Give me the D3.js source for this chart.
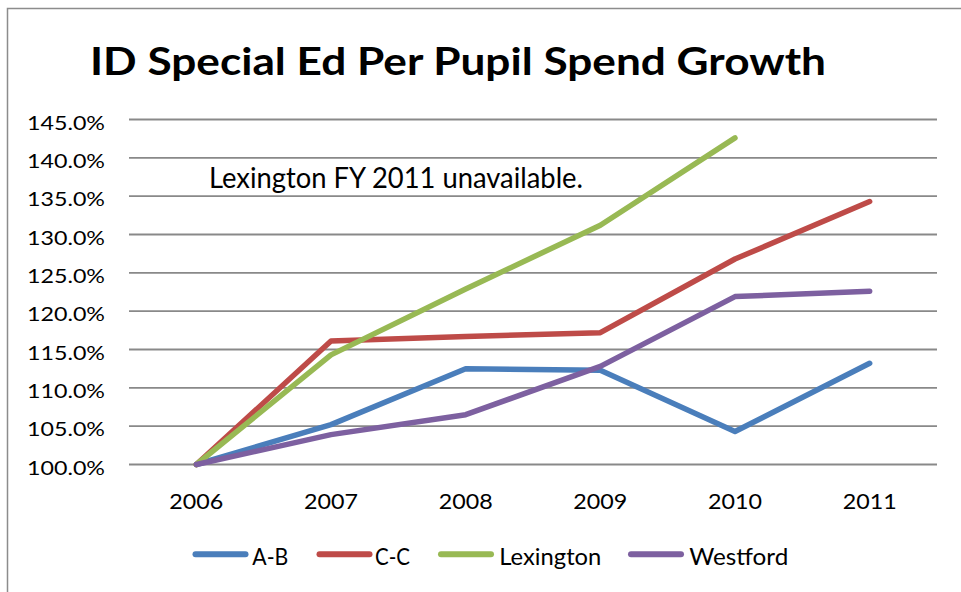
<!DOCTYPE html>
<html>
<head>
<meta charset="utf-8">
<script src="https://cdn.jsdelivr.net/npm/d3@7/dist/d3.min.js"></script>
<style>
  html, body { margin: 0; padding: 0; background: #fff; }
  svg { display: block; }
  text { font-family: Lato, "Open Sans", sans-serif; fill: #000; }
</style>
</head>
<body>
<script>
// Per-pupil special-ed spending, indexed to 2006 = 100%
const years = ["2006", "2007", "2008", "2009", "2010", "2011"];
const abValues = [100.0, 105.2, 112.5, 112.3, 104.3, 113.2];
const ccValues = [100.0, 116.1, 116.7, 117.2, 126.8, 134.3];
const lexingtonValues = [100.0, 114.3, 122.9, 131.2, 142.6, null];
const westfordValues = [100.0, 103.9, 106.5, 112.8, 121.9, 122.6];
const yTicks = [100, 105, 110, 115, 120, 125, 130, 135, 140, 145];

const seriesNames = ["A-B", "C-C", "Lexington", "Westford"];
const seriesColors = ["#4a7ebb", "#be4b48", "#98b954", "#7d60a0"];
const seriesValues = [abValues, ccValues, lexingtonValues, westfordValues];

const W = 961, H = 592;
const svg = d3.select("body").append("svg").attr("width", W).attr("height", H);

// chart frame
svg.append("rect")
  .attr("x", 7.5).attr("y", 8.5).attr("width", W + 10).attr("height", H + 10)
  .attr("fill", "none").attr("stroke", "#8c8c8c").attr("stroke-width", 1.5);

// title
svg.append("text")
  .attr("x", 90).attr("y", 74.5)
  .attr("font-size", 38.5).attr("font-weight", "bold")
  .attr("textLength", 736).attr("lengthAdjust", "spacingAndGlyphs")
  .text("ID Special Ed Per Pupil Spend Growth");

const plot = { left: 129, right: 937, top: 119.5, bottom: 464.5 };

const x = d3.scaleBand().domain(years).range([plot.left, plot.right]);
const y = d3.scaleLinear().domain([100, 145]).range([plot.bottom, plot.top]);

// horizontal gridlines
svg.append("g").selectAll("line").data(yTicks).join("line")
  .attr("x1", plot.left).attr("x2", plot.right)
  .attr("y1", d => y(d)).attr("y2", d => y(d))
  .attr("stroke", "#898989").attr("stroke-width", 1.8);

// y-axis labels
const yAxis = d3.axisLeft(y).tickValues(yTicks).tickSize(0).tickPadding(0)
  .tickFormat(d => d3.format(".1f")(d) + "%");
const gy = svg.append("g").attr("transform", `translate(105,0)`).call(yAxis);
gy.select(".domain").remove();
gy.selectAll("text")
  .attr("font-size", 19.5).attr("fill", "#000")
  .attr("font-family", "Lato, sans-serif")
  .attr("x", -78).attr("text-anchor", "start")
  .attr("dy", null).attr("y", 9.8)
  .attr("textLength", 78).attr("lengthAdjust", "spacingAndGlyphs");

// x-axis labels
const xAxis = d3.axisBottom(x).tickSize(0).tickPadding(0);
const gx = svg.append("g").attr("transform", `translate(0,${plot.bottom})`).call(xAxis);
gx.select(".domain").remove();
gx.selectAll("text")
  .attr("font-size", 22).attr("fill", "#000")
  .attr("font-family", "Lato, sans-serif")
  .attr("dy", null).attr("y", 44.8)
  .attr("textLength", 54).attr("lengthAdjust", "spacingAndGlyphs");

// annotation
svg.append("text")
  .attr("x", 209).attr("y", 188.3)
  .attr("font-size", 29)
  .attr("textLength", 374).attr("lengthAdjust", "spacingAndGlyphs")
  .text("Lexington FY 2011 unavailable.");

// series lines
const line = d3.line()
  .defined(d => d.v != null)
  .x(d => x(d.year) + x.bandwidth() / 2)
  .y(d => y(d.v));

seriesValues.forEach((vals, i) => {
  svg.append("path")
    .datum(years.map((yr, j) => ({ year: yr, v: vals[j] })))
    .attr("d", line)
    .attr("fill", "none")
    .attr("stroke", seriesColors[i])
    .attr("stroke-width", 5.5)
    .attr("stroke-linecap", "round")
    .attr("stroke-linejoin", "round");
});

// legend
const legendX = [195.5, 319.5, 441, 631];
const legendTextX = [252.3, 375, 499.3, 689.3];
const legendTextW = [36, 35, 102, 99];
const legendY = 554.3;
const lg = svg.append("g");
seriesNames.forEach((name, i) => {
  lg.append("line")
    .attr("x1", legendX[i]).attr("x2", legendX[i] + 50)
    .attr("y1", legendY).attr("y2", legendY)
    .attr("stroke", seriesColors[i]).attr("stroke-width", 6)
    .attr("stroke-linecap", "round");
  lg.append("text")
    .attr("x", legendTextX[i]).attr("y", 565)
    .attr("font-size", 23)
    .attr("textLength", legendTextW[i]).attr("lengthAdjust", "spacingAndGlyphs")
    .text(name);
});
</script>
</body>
</html>
